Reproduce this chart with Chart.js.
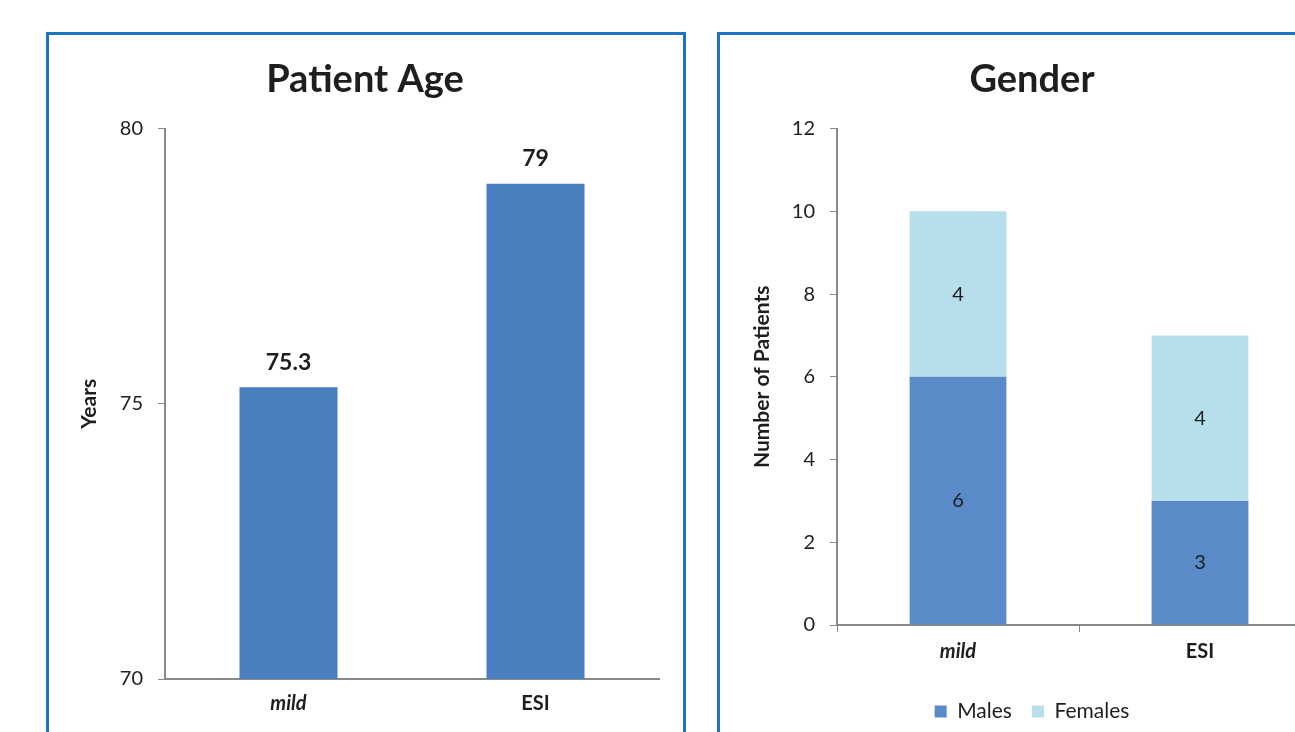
<!DOCTYPE html>
<html>
<head>
<meta charset="utf-8">
<script src="https://cdn.jsdelivr.net/npm/chart.js@4.4.0/dist/chart.umd.min.js"></script>
<style>
body { margin: 0; background: #fff; overflow: hidden; width: 1295px; height: 732px; position: relative; }
.panel { position: absolute; top: 32px; width: 640px; height: 760px; border: 3px solid #1d74bf; box-sizing: border-box; background: #fff; }
#p1 { left: 46px; }
#p2 { left: 717px; }
canvas { display: block; }
</style>
</head>
<body>
<div class="panel" id="p1"><canvas id="ageChart" width="634" height="700"></canvas></div>
<div class="panel" id="p2"><canvas id="genderChart" width="634" height="697"></canvas></div>
<script>
// Datos del gráfico
const categorias = ['mild', 'ESI'];
const edades = [75.3, 79];
const ticksEdad = [70, 75, 80];
const hombres = [6, 3];
const mujeres = [4, 4];
const ticksGenero = [0, 2, 4, 6, 8, 10, 12];

const FUENTE = 'Lato, "Open Sans", sans-serif';
const GRIS = '#898989';
const TEXTO = '#1e1e1e';

// Plugin sencillo para etiquetas de valor sobre/dentro de las barras
const etiquetasValor = {
    id: 'etiquetasValor',
    afterDatasetsDraw(chart, args, opts) {
        const ctx = chart.ctx;
        ctx.save();
        ctx.font = opts.font;
        ctx.fillStyle = TEXTO;
        ctx.textAlign = 'center';
        ctx.textBaseline = 'middle';
        chart.data.datasets.forEach((ds, i) => {
            const meta = chart.getDatasetMeta(i);
            meta.data.forEach((bar, j) => {
                const y = opts.modo === 'arriba' ? bar.y - opts.separacion : (bar.y + bar.base) / 2;
                ctx.fillText(String(ds.data[j]), bar.x, y);
            });
        });
        ctx.restore();
    }
};

function fijarAncho(w) { return scale => { scale.width = w; }; }
function fijarAlto(h) { return scale => { scale.height = h; }; }

// Gráfico de edad
new Chart(document.getElementById('ageChart'), {
    type: 'bar',
    data: {
        labels: categorias,
        datasets: [{
            label: 'Years',
            data: edades,
            backgroundColor: '#4a80c0',
            categoryPercentage: 1,
            barPercentage: 0.397
        }]
    },
    plugins: [etiquetasValor],
    options: {
        responsive: false,
        animation: false,
        layout: { padding: { left: 22, right: 24, top: 0, bottom: 0 } },
        plugins: {
            legend: { display: false },
            tooltip: { enabled: false },
            title: {
                display: true,
                text: 'Patient Age',
                color: TEXTO,
                font: { family: FUENTE, size: 38, weight: 'bold' },
                padding: { top: 22, bottom: 26 }
            },
            etiquetasValor: { modo: 'arriba', separacion: 25, font: 'bold 23px ' + FUENTE }
        },
        scales: {
            x: {
                afterFit: fijarAlto(56),
                grid: { display: false, drawTicks: false },
                border: { display: true, color: GRIS, width: 2 },
                ticks: {
                    padding: 13,
                    color: TEXTO,
                    font: ctx => ({ family: FUENTE, size: 20, weight: 'bold', style: ctx.index === 0 ? 'italic' : 'normal' })
                }
            },
            y: {
                min: ticksEdad[0],
                max: ticksEdad[ticksEdad.length - 1],
                afterFit: fijarAncho(94),
                grid: { drawOnChartArea: false, drawTicks: true, tickLength: 7, color: GRIS },
                border: { display: true, color: GRIS, width: 2 },
                ticks: { stepSize: ticksEdad[1] - ticksEdad[0], padding: 15, color: TEXTO, font: { family: FUENTE, size: 20 } },
                title: {
                    display: true,
                    text: 'Years',
                    color: TEXTO,
                    font: { family: FUENTE, size: 21, weight: 'bold' },
                    padding: { top: 6, bottom: 0 }
                }
            }
        }
    }
});

// Gráfico de género (apilado)
new Chart(document.getElementById('genderChart'), {
    type: 'bar',
    data: {
        labels: categorias,
        datasets: [{
            label: 'Males',
            data: hombres,
            backgroundColor: '#5a8bc8',
            categoryPercentage: 1,
            barPercentage: 0.4
        }, {
            label: 'Females',
            data: mujeres,
            backgroundColor: '#b7dfeb',
            categoryPercentage: 1,
            barPercentage: 0.4
        }]
    },
    plugins: [etiquetasValor],
    options: {
        responsive: false,
        animation: false,
        layout: { padding: { left: 23, right: 33, top: 0, bottom: 0 } },
        plugins: {
            legend: {
                position: 'bottom',
                labels: {
                    boxWidth: 12,
                    boxHeight: 12,
                    padding: 20,
                    color: TEXTO,
                    font: { family: FUENTE, size: 21 }
                }
            },
            tooltip: { enabled: false },
            title: {
                display: true,
                text: 'Gender',
                color: TEXTO,
                font: { family: FUENTE, size: 38, weight: 'bold' },
                padding: { top: 22, bottom: 26 }
            },
            etiquetasValor: { modo: 'centro', font: '20px ' + FUENTE }
        },
        scales: {
            x: {
                stacked: true,
                afterFit: fijarAlto(56),
                grid: { drawOnChartArea: false, drawTicks: true, tickLength: 7, color: GRIS },
                border: { display: true, color: GRIS, width: 2 },
                ticks: {
                    padding: 8,
                    color: TEXTO,
                    font: ctx => ({ family: FUENTE, size: 20, weight: 'bold', style: ctx.index === 0 ? 'italic' : 'normal' })
                }
            },
            y: {
                stacked: true,
                min: ticksGenero[0],
                max: ticksGenero[ticksGenero.length - 1],
                afterFit: fijarAncho(94),
                grid: { drawOnChartArea: false, drawTicks: true, tickLength: 7, color: GRIS },
                border: { display: true, color: GRIS, width: 2 },
                ticks: { stepSize: ticksGenero[1] - ticksGenero[0], padding: 15, color: TEXTO, font: { family: FUENTE, size: 20 } },
                title: {
                    display: true,
                    text: 'Number of Patients',
                    color: TEXTO,
                    font: { family: FUENTE, size: 21, weight: 'bold' },
                    padding: { top: 7, bottom: 0 }
                }
            }
        }
    }
});
</script>
</body>
</html>
